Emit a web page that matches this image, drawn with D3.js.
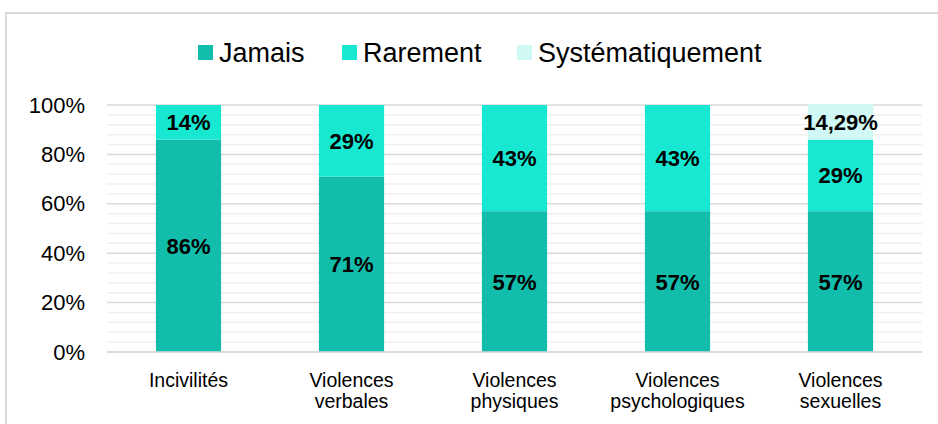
<!DOCTYPE html>
<html>
<head>
<meta charset="utf-8">
<script src="https://cdn.jsdelivr.net/npm/d3@7"></script>
<style>
  html, body { margin: 0; padding: 0; background: #fff; }
  svg { display: block; font-family: "Liberation Sans", Arial, sans-serif; }
</style>
</head>
<body>
<svg id="chart" width="938" height="424"></svg>
<script>
// Catégories (deux lignes pour les libellés longs)
const categories = ["Incivilités", "Violences verbales", "Violences physiques", "Violences psychologiques", "Violences sexuelles"];
const categoryLines = [["Incivilités"], ["Violences", "verbales"], ["Violences", "physiques"], ["Violences", "psychologiques"], ["Violences", "sexuelles"]];

// Séries (en %)
const seriesNames = ["Jamais", "Rarement", "Systématiquement"];
const jamais = [86, 71, 57, 57, 57];
const rarement = [14, 29, 43, 43, 29];
const systematiquement = [0, 0, 0, 0, 14.29];
const seriesColors = ["#13bdab", "#18e8d2", "#d0f8f4"];

// Graduations de l'axe vertical
const yTicks = [0, 20, 40, 60, 80, 100];
const yMinorTicks = d3.range(0, 101, 4);

const svg = d3.select("#chart");

// Cadre
svg.append("path")
  .attr("d", "M6,424 V13 H938")
  .attr("fill", "none")
  .attr("stroke", "#d9d9d9")
  .attr("stroke-width", 2);

const x = d3.scaleBand()
  .domain(categories)
  .range([107, 922])
  .paddingInner(0.6)
  .paddingOuter(0.3);

const y = d3.scaleLinear()
  .domain([0, 100])
  .range([352, 105]);

// Quadrillage secondaire puis principal
svg.append("g").selectAll("line")
  .data(yMinorTicks.filter(t => t % 20 !== 0))
  .join("line")
  .attr("x1", 107).attr("x2", 922)
  .attr("y1", d => y(d)).attr("y2", d => y(d))
  .attr("stroke", "#f0f0f0")
  .attr("stroke-width", 1.5);

svg.append("g").selectAll("line")
  .data(yTicks)
  .join("line")
  .attr("x1", 107).attr("x2", 922)
  .attr("y1", d => y(d)).attr("y2", d => y(d))
  .attr("stroke", "#d9d9d9")
  .attr("stroke-width", 1.5);

// Axe vertical (libellés seulement)
const yAxis = svg.append("g")
  .attr("transform", "translate(85,0)")
  .call(d3.axisLeft(y).tickValues(yTicks).tickFormat(d => d + "%").tickSize(0).tickPadding(0));
yAxis.select(".domain").remove();
yAxis.selectAll("text")
  .attr("font-size", 22)
  .attr("font-family", "'Liberation Sans', Arial, sans-serif")
  .attr("fill", "#000");

// Empilement
const rows = categories.map((c, i) => ({
  cat: c,
  Jamais: jamais[i],
  Rarement: rarement[i],
  "Systématiquement": systematiquement[i]
}));
const stacked = d3.stack().keys(seriesNames)(rows);

const fmt = v => (Number.isInteger(v) ? String(v) : v.toFixed(2).replace(".", ",")) + "%";

stacked.forEach((layer, li) => {
  const g = svg.append("g");
  g.selectAll("rect")
    .data(layer.filter(d => d[1] - d[0] > 0))
    .join("rect")
    .attr("x", d => x(d.data.cat))
    .attr("width", x.bandwidth())
    .attr("y", d => y(d[1]))
    .attr("height", d => y(d[0]) - y(d[1]))
    .attr("fill", seriesColors[li]);
  g.selectAll("text")
    .data(layer.filter(d => d[1] - d[0] > 0))
    .join("text")
    .attr("x", d => x(d.data.cat) + x.bandwidth() / 2)
    .attr("y", d => y((d[0] + d[1]) / 2))
    .attr("dy", "0.36em")
    .attr("text-anchor", "middle")
    .attr("font-size", 22)
    .attr("font-weight", "bold")
    .attr("fill", "#000")
    .text(d => fmt(d[1] - d[0]));
});

// Ligne de base
svg.append("line")
  .attr("x1", 107).attr("x2", 922)
  .attr("y1", y(0)).attr("y2", y(0))
  .attr("stroke", "#d9d9d9")
  .attr("stroke-width", 1.5);

// Libellés des catégories
const catG = svg.append("g");
categories.forEach((c, i) => {
  const t = catG.append("text")
    .attr("x", x(c) + x.bandwidth() / 2)
    .attr("y", 387)
    .attr("text-anchor", "middle")
    .attr("font-size", 19.5)
    .attr("fill", "#000");
  categoryLines[i].forEach((line, k) => {
    t.append("tspan")
      .attr("x", x(c) + x.bandwidth() / 2)
      .attr("y", 387 + k * 21)
      .text(line);
  });
});

// Légende
const legendX = [198, 342, 517];
const legend = svg.append("g");
seriesNames.forEach((name, i) => {
  legend.append("rect")
    .attr("x", legendX[i]).attr("y", 45)
    .attr("width", 15).attr("height", 15)
    .attr("fill", seriesColors[i]);
  legend.append("text")
    .attr("x", legendX[i] + 21)
    .attr("y", 62)
    .attr("font-size", 27)
    .attr("fill", "#000")
    .text(name);
});
</script>
</body>
</html>
